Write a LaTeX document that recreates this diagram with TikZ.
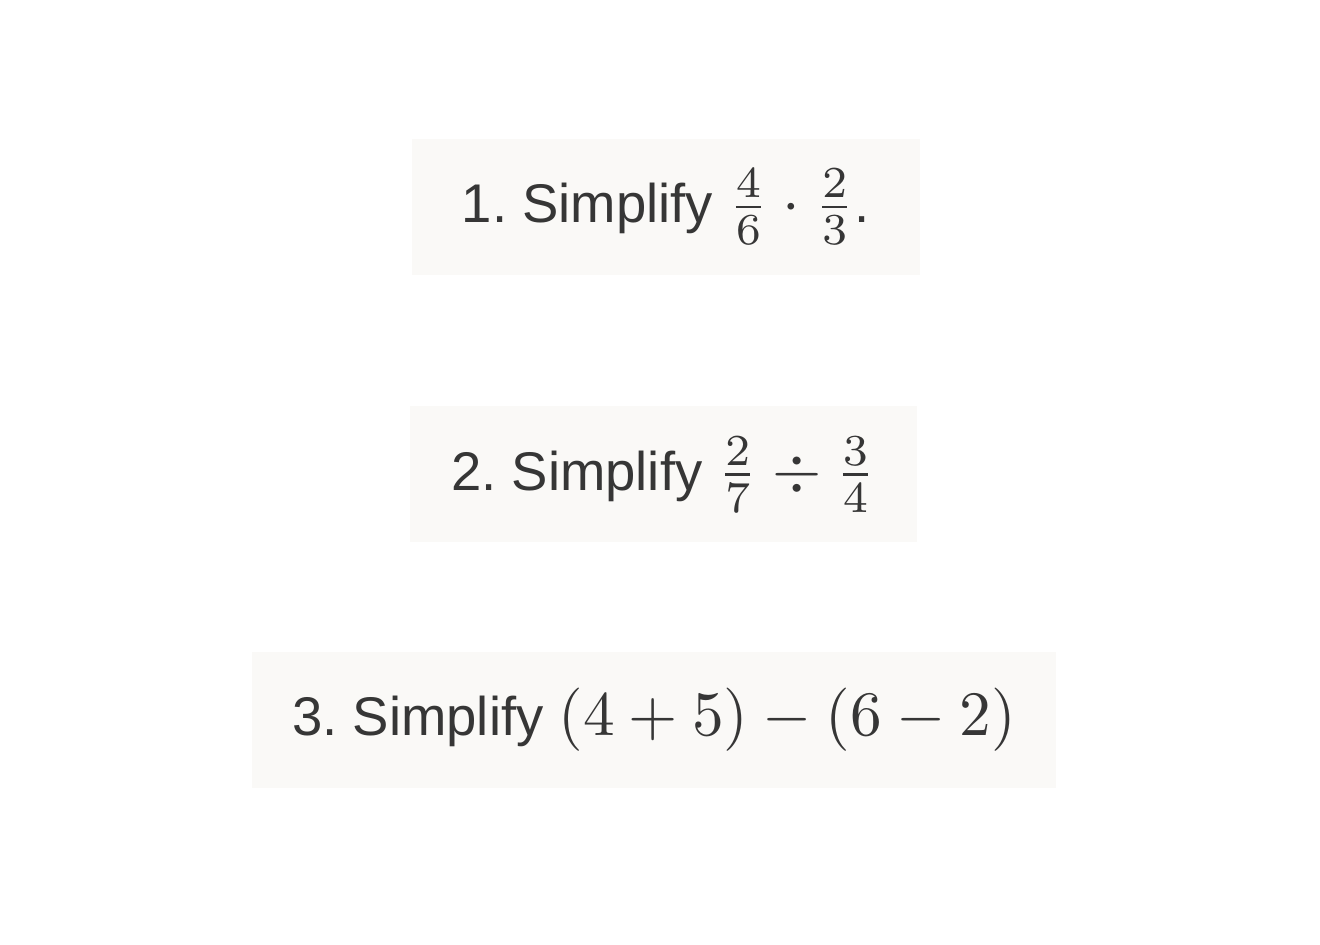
\documentclass[tikz,border=0pt]{standalone}
\usepackage{amsmath}
\usepackage{graphicx}
\usepackage{fontspec}
\setmainfont{Liberation Sans}
\usepackage{tikz}
\usetikzlibrary{positioning}
\definecolor{ink}{HTML}{363636}
\definecolor{paper}{HTML}{FAF9F7}
\tikzset{task/.style={fill=paper, text=ink, inner sep=0pt, minimum height=1.36cm,
    font=\fontsize{15.5}{18}\selectfont\frenchspacing}}
\newcommand{\mth}[1]{\scalebox{1.8}{\fontsize{10}{12}\selectfont$#1$}}

\begin{document}
\begin{tikzpicture}
		\useasboundingbox (0,0) rectangle (13.2,9.44);
		
		\node(P1) [task, minimum width=5.08cm] at (6.66,7.37) {1. Simplify \mth{\frac{4}{6}\cdot\frac{2}{3}}.}; 
		\node(P2) [task, minimum width=5.07cm, below=1.3cm of P1, xshift=-0.025cm] {2. Simplify \mth{\frac{2}{7}\div\frac{3}{4}}}; 
		\node(P3) [task, minimum width=8.04cm, below=1.08cm of P2, xshift=-0.095cm] {3. Simplify \mth{(4+5)-(6-2)}}; 
	\end{tikzpicture}
\end{document}
